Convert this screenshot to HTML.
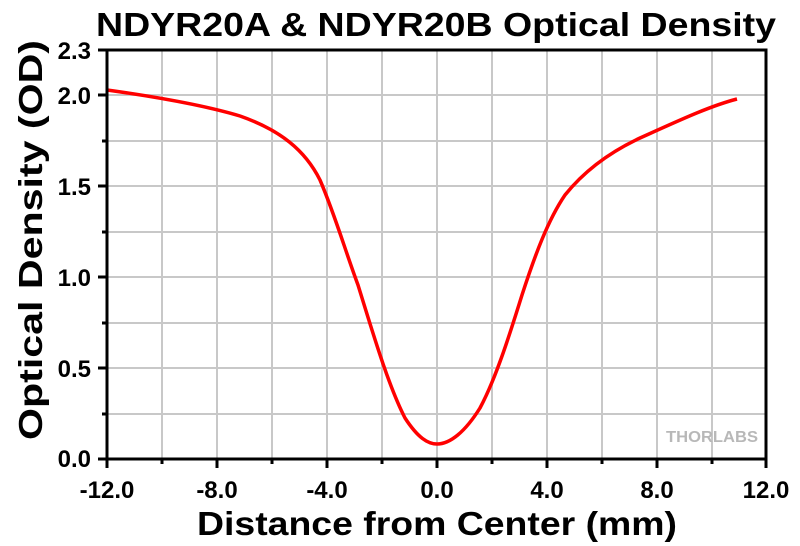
<!DOCTYPE html><html><head><style>body{margin:0;background:#fff}svg{display:block}text{font-family:"Liberation Sans",Arial,sans-serif;font-weight:bold}</style></head><body>
<svg width="800" height="546" viewBox="0 0 800 546">
<g stroke="#c8c8c8" stroke-width="2">
<line x1="162" y1="50" x2="162" y2="459"/><line x1="217" y1="50" x2="217" y2="459"/><line x1="272" y1="50" x2="272" y2="459"/><line x1="327" y1="50" x2="327" y2="459"/><line x1="382" y1="50" x2="382" y2="459"/><line x1="437" y1="50" x2="437" y2="459"/><line x1="492" y1="50" x2="492" y2="459"/><line x1="547" y1="50" x2="547" y2="459"/><line x1="602" y1="50" x2="602" y2="459"/><line x1="657" y1="50" x2="657" y2="459"/><line x1="712" y1="50" x2="712" y2="459"/>
<line x1="107" y1="95" x2="766" y2="95"/><line x1="107" y1="141" x2="766" y2="141"/><line x1="107" y1="186" x2="766" y2="186"/><line x1="107" y1="232" x2="766" y2="232"/><line x1="107" y1="277" x2="766" y2="277"/><line x1="107" y1="323" x2="766" y2="323"/><line x1="107" y1="368" x2="766" y2="368"/><line x1="107" y1="414" x2="766" y2="414"/>
</g>
<text x="666" y="442" font-size="16" fill="#b8b8b8" textLength="92" lengthAdjust="spacingAndGlyphs">THORLABS</text>
<path d="M107,90 C150,96 200,104 240,116 C280,130 305,150 320,180 C335,215 345,250 358,285 C372,330 388,385 405,418 C418,438 428,444 437,444 C450,444 465,432 480,408 C495,380 508,340 522,295 C535,255 548,220 565,195 C585,170 610,152 640,138 C680,120 710,106 737,99" fill="none" stroke="#ff0000" stroke-width="3.5"/>
<rect x="107" y="50" width="659" height="409" fill="none" stroke="#000" stroke-width="3"/>
<g stroke="#000" stroke-width="3">
<line x1="107" y1="459" x2="107" y2="468"/><line x1="217" y1="459" x2="217" y2="468"/><line x1="327" y1="459" x2="327" y2="468"/><line x1="437" y1="459" x2="437" y2="468"/><line x1="547" y1="459" x2="547" y2="468"/><line x1="657" y1="459" x2="657" y2="468"/><line x1="766" y1="459" x2="766" y2="468"/>
<line x1="162" y1="459" x2="162" y2="464"/><line x1="272" y1="459" x2="272" y2="464"/><line x1="382" y1="459" x2="382" y2="464"/><line x1="492" y1="459" x2="492" y2="464"/><line x1="602" y1="459" x2="602" y2="464"/><line x1="712" y1="459" x2="712" y2="464"/>
<line x1="98" y1="50" x2="107" y2="50"/><line x1="98" y1="95" x2="107" y2="95"/><line x1="98" y1="186" x2="107" y2="186"/><line x1="98" y1="277" x2="107" y2="277"/><line x1="98" y1="368" x2="107" y2="368"/><line x1="98" y1="459" x2="107" y2="459"/>
<line x1="102" y1="141" x2="107" y2="141"/><line x1="102" y1="232" x2="107" y2="232"/><line x1="102" y1="323" x2="107" y2="323"/><line x1="102" y1="414" x2="107" y2="414"/>
</g>
<g font-size="24" fill="#000" text-anchor="end">
<text x="91" y="59">2.3</text><text x="91" y="104">2.0</text><text x="91" y="195">1.5</text><text x="91" y="286">1.0</text><text x="91" y="377">0.5</text><text x="91" y="467">0.0</text>
</g>
<g font-size="24" fill="#000" text-anchor="middle">
<text x="107" y="498">-12.0</text><text x="217" y="498">-8.0</text><text x="327" y="498">-4.0</text><text x="437" y="498">0.0</text><text x="547" y="498">4.0</text><text x="657" y="498">8.0</text><text x="766" y="498">12.0</text>
</g>
<text x="197" y="535" font-size="33" textLength="480" lengthAdjust="spacingAndGlyphs">Distance from Center (mm)</text>
<text x="96" y="36" font-size="33" textLength="680" lengthAdjust="spacingAndGlyphs">NDYR20A &amp; NDYR20B Optical Density</text>
<text transform="translate(42,440) rotate(-90)" font-size="33" textLength="400" lengthAdjust="spacingAndGlyphs">Optical Density (OD)</text>
</svg></body></html>
